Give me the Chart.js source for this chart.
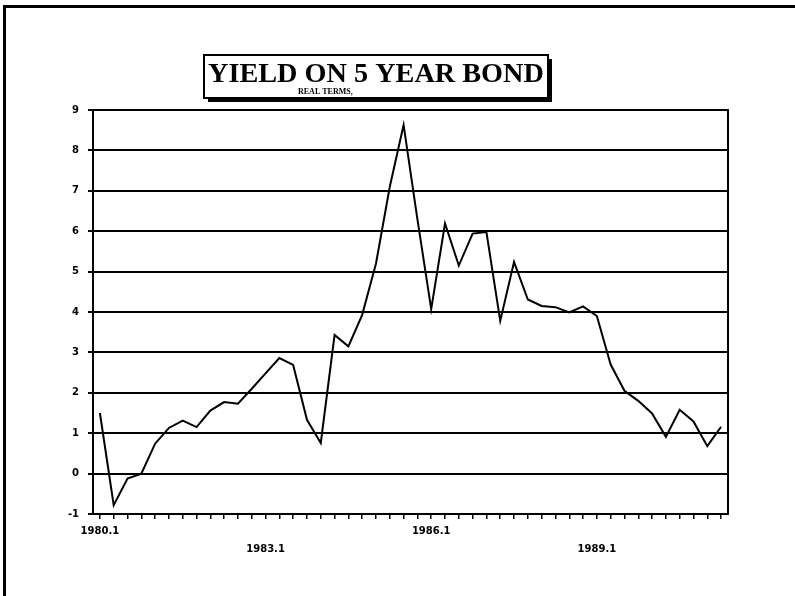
<!DOCTYPE html>
<html>
<head>
<meta charset="utf-8">
<script src="https://cdn.jsdelivr.net/npm/chart.js@4.4.1/dist/chart.umd.min.js"></script>
<style>
  html, body { margin: 0; padding: 0; background: #fff; overflow: hidden; }
  #wrap { position: relative; width: 795px; height: 596px; }
  #frame { position: absolute; left: 3px; top: 5px; width: 820px; height: 620px;
           border-left: 3px solid #000; border-top: 3px solid #000; box-sizing: border-box; }
  canvas { position: absolute; left: 0; top: 0; }
</style>
</head>
<body>
<div id="wrap">
  <div id="frame"></div>
  <canvas id="c" width="795" height="596"></canvas>
</div>
<script>
const titleText = "YIELD ON 5 YEAR BOND";
const subtitleText = "REAL TERMS,";

const quarters = [
  "1980.1","1980.2","1980.3","1980.4",
  "1981.1","1981.2","1981.3","1981.4",
  "1982.1","1982.2","1982.3","1982.4",
  "1983.1","1983.2","1983.3","1983.4",
  "1984.1","1984.2","1984.3","1984.4",
  "1985.1","1985.2","1985.3","1985.4",
  "1986.1","1986.2","1986.3","1986.4",
  "1987.1","1987.2","1987.3","1987.4",
  "1988.1","1988.2","1988.3","1988.4",
  "1989.1","1989.2","1989.3","1989.4",
  "1990.1","1990.2","1990.3","1990.4",
  "1991.1","1991.2"
];

const shownLabels = ["1980.1", "1983.1", "1986.1", "1989.1"];
const loweredLabels = ["1983.1", "1989.1"];

const yieldReal = [
  1.50, -0.78, -0.12, 0.00,
  0.74, 1.13, 1.31, 1.15,
  1.56, 1.77, 1.73, 2.10,
  2.48, 2.86, 2.69, 1.33,
  0.76, 3.43, 3.15, 3.93,
  5.20, 7.10, 8.63, 6.30,
  4.07, 6.19, 5.15, 5.94,
  5.98, 3.78, 5.24, 4.31,
  4.15, 4.12, 3.99, 4.14,
  3.90, 2.70, 2.05, 1.80,
  1.49, 0.91, 1.58, 1.29,
  0.68, 1.16
];

const yMin = -1, yMax = 9, yStep = 1;

const framePlugin = {
  id: 'framePlugin',
  afterDraw(chart) {
    const {ctx, chartArea: a} = chart;
    ctx.save();
    ctx.strokeStyle = '#000';
    ctx.lineWidth = 2;
    ctx.strokeRect(a.left, a.top, a.right - a.left, a.bottom - a.top);
    ctx.restore();
  }
};

const titlePlugin = {
  id: 'titlePlugin',
  afterDraw(chart) {
    const ctx = chart.ctx;
    const bx = 204, by = 55, bw = 344, bh = 43;
    ctx.save();
    ctx.fillStyle = '#000';
    ctx.fillRect(bx + 4, by + bh, bw, 4);
    ctx.fillRect(bx + bw, by + 4, 4, bh);
    ctx.fillStyle = '#fff';
    ctx.fillRect(bx, by, bw, bh);
    ctx.strokeStyle = '#000';
    ctx.lineWidth = 2;
    ctx.strokeRect(bx, by, bw, bh);
    ctx.fillStyle = '#000';
    ctx.textBaseline = 'alphabetic';
    ctx.textAlign = 'left';
    let fs = 28;
    ctx.font = 'bold ' + fs + 'px "Liberation Serif", "Times New Roman", serif';
    const target = bw - 8;
    const w = ctx.measureText(titleText).width;
    fs = fs * target / w;
    ctx.font = 'bold ' + fs.toFixed(2) + 'px "Liberation Serif", "Times New Roman", serif';
    ctx.fillText(titleText, bx + 4, by + 27);
    ctx.font = 'bold 8px "Liberation Serif", serif';
    ctx.fillText(subtitleText, 298, by + 39);
    ctx.restore();
  }
};

const ctx = document.getElementById('c').getContext('2d');
new Chart(ctx, {
  type: 'line',
  data: {
    labels: quarters,
    datasets: [{
      data: yieldReal,
      borderColor: '#000',
      borderWidth: 2,
      pointRadius: 0,
      tension: 0,
      fill: false
    }]
  },
  options: {
    responsive: false,
    animation: false,
    devicePixelRatio: 1,
    layout: { padding: { left: 0, top: 110, right: 67, bottom: 0 } },
    plugins: { legend: { display: false }, tooltip: { enabled: false }, title: { display: false } },
    scales: {
      x: {
        type: 'category',
        offset: true,
        grid: { display: true, drawOnChartArea: false, drawTicks: true, tickLength: 5, color: '#000', lineWidth: 1.5, offset: false },
        border: { display: true, color: '#000', width: 2 },
        ticks: {
          autoSkip: false, maxRotation: 0, minRotation: 0, padding: 3,
          color: '#000',
          font: { family: '"DejaVu Sans", "Liberation Sans", sans-serif', weight: 'bold', size: 10, lineHeight: 1.8 },
          callback: function(val, idx) {
            const lab = this.getLabelForValue(val);
            if (!shownLabels.includes(lab)) return '';
            return loweredLabels.includes(lab) ? ['', lab] : lab;
          }
        },
        afterFit(scale) { scale.height = 82; }
      },
      y: {
        min: yMin, max: yMax,
        grid: { color: '#000', lineWidth: 2, tickLength: 5, drawTicks: true },
        border: { display: true, color: '#000', width: 2 },
        ticks: {
          stepSize: yStep, padding: 9, color: '#000',
          font: { family: '"DejaVu Sans", "Liberation Sans", sans-serif', weight: 'bold', size: 10 }
        },
        afterFit(scale) { scale.width = 93; }
      }
    }
  },
  plugins: [framePlugin, titlePlugin]
});
</script>
</body>
</html>
